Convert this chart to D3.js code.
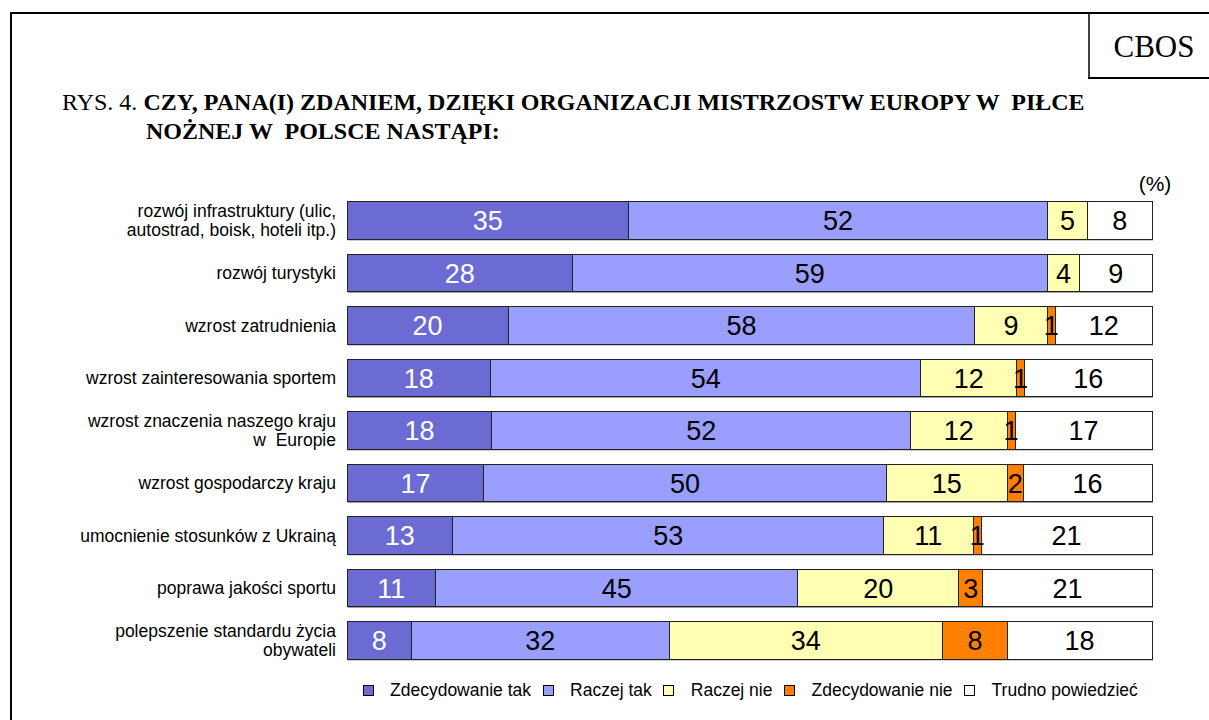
<!DOCTYPE html>
<html>
<head>
<meta charset="utf-8">
<script src="https://cdn.jsdelivr.net/npm/d3@7"></script>
<style>
  body { margin: 0; background: #fff; }
  text { white-space: pre; }
</style>
</head>
<body>
<div id="chart"></div>
<script>
// Categories (multi-line labels split with \n)
var categories = [
    "rozwój infrastruktury (ulic,\nautostrad, boisk, hoteli itp.)",
    "rozwój turystyki",
    "wzrost zatrudnienia",
    "wzrost zainteresowania sportem",
    "wzrost znaczenia naszego kraju\nw  Europie",
    "wzrost gospodarczy kraju",
    "umocnienie stosunków z Ukrainą",
    "poprawa jakości sportu",
    "polepszenie standardu życia\nobywateli"
];

// Series values (%)
var seriesNames = ["Zdecydowanie tak", "Raczej tak", "Raczej nie", "Zdecydowanie nie", "Trudno powiedzieć"];
var zdecydowanieTak = [35, 28, 20, 18, 18, 17, 13, 11, 8];
var raczejTak = [52, 59, 58, 54, 52, 50, 53, 45, 32];
var raczejNie = [5, 4, 9, 12, 12, 15, 11, 20, 34];
var zdecydowanieNie = [0, 0, 1, 1, 1, 2, 1, 3, 8];
var trudno = [8, 9, 12, 16, 17, 16, 21, 21, 18];

var colors = ["#6b6bd3", "#9a9fff", "#ffffb3", "#ff8000", "#ffffff"];
var labelColors = ["#ffffff", "#000000", "#000000", "#000000", "#000000"];

var svgWidth = 1209, svgHeight = 720;
var margin = { top: 202, left: 347, right: 57 };

var svg = d3.select("#chart").append("svg")
    .attr("width", svgWidth)
    .attr("height", svgHeight);

// Page frame
svg.append("line").attr("x1", 11).attr("x2", 11).attr("y1", 13).attr("y2", svgHeight)
    .attr("stroke", "#000").attr("stroke-width", 2);
svg.append("line").attr("x1", 10).attr("x2", svgWidth).attr("y1", 13).attr("y2", 13)
    .attr("stroke", "#000").attr("stroke-width", 2);

// CBOS box
svg.append("line").attr("x1", 1089).attr("x2", 1089).attr("y1", 13).attr("y2", 78)
    .attr("stroke", "#000").attr("stroke-width", 1.5);
svg.append("line").attr("x1", 1088).attr("x2", svgWidth).attr("y1", 78).attr("y2", 78)
    .attr("stroke", "#000").attr("stroke-width", 2);
svg.append("text")
    .attr("x", 1154).attr("y", 57)
    .attr("text-anchor", "middle")
    .style("font-family", "'Liberation Serif', 'Times New Roman', serif")
    .style("font-size", "31px")
    .text("CBOS");

// Title
var title = svg.append("text")
    .attr("x", 62).attr("y", 110)
    .style("font-family", "'Liberation Serif', 'Times New Roman', serif")
    .style("font-size", "24px");
title.append("tspan").text("RYS. 4. ");
title.append("tspan").style("font-weight", "bold")
    .text("CZY, PANA(I) ZDANIEM, DZIĘKI ORGANIZACJI MISTRZOSTW EUROPY W  PIŁCE");
svg.append("text")
    .attr("x", 146).attr("y", 139)
    .style("font-family", "'Liberation Serif', 'Times New Roman', serif")
    .style("font-size", "24px")
    .style("font-weight", "bold")
    .text("NOŻNEJ W  POLSCE NASTĄPI:");

// (%) marker
svg.append("text")
    .attr("x", 1155).attr("y", 191)
    .attr("text-anchor", "middle")
    .style("font-family", "'Liberation Sans', Arial, sans-serif")
    .style("font-size", "21px")
    .text("(%)");

// Build stacked rows, normalised to each row's total
var rows = categories.map(function(c, i) {
    var vals = [zdecydowanieTak[i], raczejTak[i], raczejNie[i], zdecydowanieNie[i], trudno[i]];
    var total = d3.sum(vals);
    var acc = 0;
    var segs = vals.map(function(v, k) {
        var s = { key: k, value: v, x0: acc / total * 100, x1: (acc + v) / total * 100 };
        acc += v;
        return s;
    });
    return { cat: c, segs: segs };
});

var x = d3.scaleLinear().domain([0, 100]).range([margin.left, svgWidth - margin.right]);
var y = d3.scaleBand()
    .domain(categories)
    .range([margin.top - 7.75, margin.top - 7.75 + 52.5 * categories.length])
    .paddingInner(0.295)
    .paddingOuter(0.1475);

var g = svg.append("g");

var rowG = g.selectAll(".row")
    .data(rows)
    .join("g")
        .attr("class", "row")
        .attr("transform", d => "translate(0," + y(d.cat) + ")");

// Soft shadow under each bar
rowG.append("rect")
    .attr("x", x(0) + 1)
    .attr("y", 1.5)
    .attr("width", x(100) - x(0))
    .attr("height", y.bandwidth())
    .attr("fill", "#a0a0a0");

rowG.selectAll(".seg")
    .data(d => d.segs.filter(s => s.value > 0))
    .join("rect")
        .attr("class", "seg")
        .attr("x", s => x(s.x0))
        .attr("y", 0)
        .attr("width", s => x(s.x1) - x(s.x0))
        .attr("height", y.bandwidth())
        .attr("fill", s => colors[s.key])
        .attr("stroke", "#222")
        .attr("stroke-width", 1)
        .attr("shape-rendering", "crispEdges");

rowG.selectAll(".val")
    .data(d => d.segs.filter(s => s.value > 0))
    .join("text")
        .attr("class", "val")
        .attr("x", s => (x(s.x0) + x(s.x1)) / 2)
        .attr("y", y.bandwidth() / 2)
        .attr("dy", "0.36em")
        .attr("text-anchor", "middle")
        .attr("fill", s => labelColors[s.key])
        .style("font-family", "'Liberation Sans', Arial, sans-serif")
        .style("font-size", "27px")
        .text(s => s.value);

// Category labels
rowG.each(function(d) {
    var lines = d.cat.split("\n");
    var t = d3.select(this).append("text")
        .attr("text-anchor", "end")
        .style("font-family", "'Liberation Sans', Arial, sans-serif")
        .style("font-size", "17.5px")
        .attr("fill", "#000");
    var lh = 19;
    var start = y.bandwidth() / 2 - (lines.length - 1) * lh / 2;
    lines.forEach(function(l, i) {
        t.append("tspan")
            .attr("x", 336)
            .attr("y", start + i * lh)
            .attr("dy", "0.35em")
            .text(l);
    });
});

// Legend
var legend = svg.append("g").attr("transform", "translate(0,690)");
var lx = 363;
seriesNames.forEach(function(name, k) {
    legend.append("rect")
        .attr("x", lx).attr("y", -5)
        .attr("width", 10).attr("height", 10)
        .attr("fill", colors[k])
        .attr("stroke", "#000")
        .attr("stroke-width", 1)
        .attr("shape-rendering", "crispEdges");
    var t = legend.append("text")
        .attr("x", lx + 27).attr("y", 0)
        .attr("dy", "0.35em")
        .style("font-family", "'Liberation Sans', Arial, sans-serif")
        .style("font-size", "17.5px")
        .text(name);
    lx += 27 + t.node().getComputedTextLength() + 12;
});
</script>
</body>
</html>
